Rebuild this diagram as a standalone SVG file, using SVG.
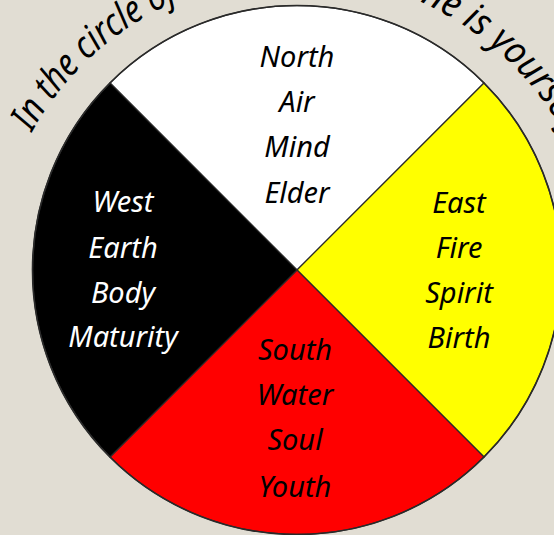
<svg xmlns="http://www.w3.org/2000/svg" xmlns:xlink="http://www.w3.org/1999/xlink" width="554" height="535" viewBox="0 0 554 535">
  <defs>
    <style>
      .sector { stroke: #2a2a2a; stroke-width: 1.2; stroke-linejoin: round; }
      .lbl { font-family: "Segoe Print", "Comic Sans MS", "Noto Sans", "DejaVu Sans", sans-serif; font-style: italic; font-size: 29px; text-anchor: middle; }
      .arc { font-family: "Segoe Print", "Comic Sans MS", "Noto Sans", "DejaVu Sans", sans-serif; font-style: italic; font-size: 38px; fill: #000; }
    </style>
    <path id="arcLeft" d="M11.8,176 A304,304 0 0 1 271,-22.8"/>
    <path id="arcRight" d="M401.5,-5.7 A304,304 0 0 1 591.1,201.3"/>
  </defs>
  <rect x="0" y="0" width="554" height="535" fill="#e1ddd3"/>

  <g id="title">
    <text class="arc"><textPath xlink:href="#arcLeft" href="#arcLeft" startOffset="48" textLength="201" lengthAdjust="spacingAndGlyphs">In the circle of</textPath></text>
    <text class="arc"><textPath xlink:href="#arcRight" href="#arcRight" startOffset="20" textLength="203" lengthAdjust="spacingAndGlyphs">ne is yourself</textPath></text>
  </g>

  <g id="north">
    <path class="sector" fill="#ffffff" d="M297,270 L110,83 A264.5,264.5 0 0 1 484,83 Z"/>
    <text class="lbl" fill="#000" x="297" y="67">North</text>
    <text class="lbl" fill="#000" x="297" y="112">Air</text>
    <text class="lbl" fill="#000" x="297" y="157">Mind</text>
    <text class="lbl" fill="#000" x="297" y="203">Elder</text>
  </g>

  <g id="east">
    <path class="sector" fill="#ffff00" d="M297,270 L484,83 A264.5,264.5 0 0 1 484,457 Z"/>
    <text class="lbl" fill="#000" x="459" y="213">East</text>
    <text class="lbl" fill="#000" x="459" y="258">Fire</text>
    <text class="lbl" fill="#000" x="459" y="303">Spirit</text>
    <text class="lbl" fill="#000" x="459" y="348">Birth</text>
  </g>

  <g id="south">
    <path class="sector" fill="#ff0000" d="M297,270 L484,457 A264.5,264.5 0 0 1 110,457 Z"/>
    <text class="lbl" fill="#000" x="295" y="360">South</text>
    <text class="lbl" fill="#000" x="295" y="405">Water</text>
    <text class="lbl" fill="#000" x="295" y="450">Soul</text>
    <text class="lbl" fill="#000" x="295" y="497">Youth</text>
  </g>

  <g id="west">
    <path class="sector" fill="#000000" d="M297,270 L110,457 A264.5,264.5 0 0 1 110,83 Z"/>
    <text class="lbl" fill="#fff" x="123" y="212">West</text>
    <text class="lbl" fill="#fff" x="123" y="258">Earth</text>
    <text class="lbl" fill="#fff" x="123" y="303">Body</text>
    <text class="lbl" fill="#fff" x="123" y="347">Maturity</text>
  </g>

  <circle cx="297" cy="270" r="264.5" fill="none" stroke="#2a2a2a" stroke-width="1.6"/>
</svg>
